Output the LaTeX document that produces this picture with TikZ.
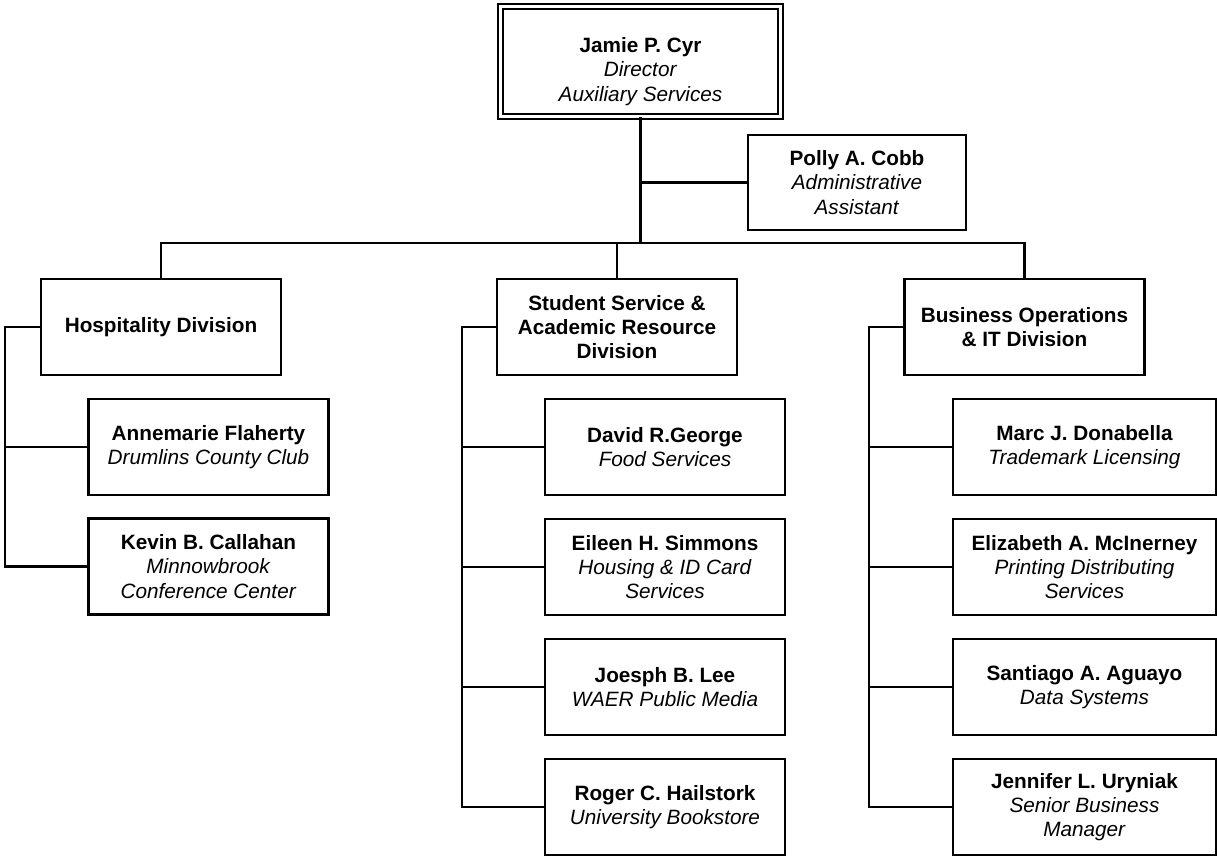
\documentclass[tikz,border=0pt]{standalone}
\usepackage{fontspec}
\setmainfont{Liberation Sans}
\tikzset{
  box/.style={draw, line width=1.2pt, align=center, inner sep=2pt,
    minimum width=4.8cm, minimum height=1.92cm,
    font=\fontsize{11.8}{13.8}\selectfont},
  widebox/.style={box, minimum width=5.26cm},
  headbox/.style={box, double, line width=0.9pt, double distance=1.8pt,
    minimum width=5.6cm, minimum height=2.2cm},
}
\newcommand{\who}[1]{\textbf{#1}}
\newcommand{\what}[1]{\textit{#1}}
\begin{document}
\begin{tikzpicture}[x=0.02cm, y=-0.02cm]
      \useasboundingbox (0,0) rectangle (1217,858);
      \draw
        (640.5,61.5) node[headbox] (cyr){\who{\rule{0pt}{20pt}Jamie P. Cyr}\\\what{Director}\\\what{Auxiliary Services}}
        (857,182.5) node[box, minimum width=4.36cm, minimum height=1.9cm] (cobb){\who{Polly A. Cobb}\\\what{Administrative}\\\what{Assistant}}
        (161,327) node[box] (hosp){\who{Hospitality Division}}
        (617,327) node[box] (stud){\who{Student Service \&}\\\who{Academic Resource}\\\who{Division}}
        (1024.5,327) node[box] (busop){\who{Business Operations}\\\who{\& IT Division}}
        (208.5,447) node[box] (flah){\who{Annemarie Flaherty}\\\what{Drumlins County Club}}
        (208.5,566.5) node[box] (call){\who{Kevin B. Callahan}\\\what{Minnowbrook}\\\what{Conference Center}}
        (665,447) node[box] (geor){\who{David R.George}\\\what{Food Services}}
        (665,567) node[box] (simm){\who{Eileen H. Simmons}\\\what{Housing \& ID Card}\\\what{Services}}
        (665,687) node[box] (lee){\who{Joesph B. Lee}\\\what{WAER Public Media}}
        (665,807) node[box] (hail){\who{Roger C. Hailstork}\\\what{University Bookstore}}
        (1084.5,447) node[widebox] (dona){\who{Marc J. Donabella}\\\what{Trademark Licensing}}
        (1084.5,567) node[widebox] (mcin){\who{Elizabeth A. McInerney}\\\what{Printing Distributing}\\\what{Services}}
        (1084.5,687) node[widebox] (agua){\who{Santiago A. Aguayo}\\\what{Data Systems}}
        (1084.5,807) node[widebox] (uryn){\who{Jennifer L. Uryniak}\\\what{Senior Business}\\\what{Manager}};
      \coordinate (bus) at (640.5,243);
      \coordinate (hospl) at (5,327);
      \coordinate (studl) at (462,327);
      \coordinate (busopl) at (869,327);
      \begin{scope}[-, line width=1.2pt]
        \draw (cyr.south) to (bus);
        \draw (cobb.west) -- (cobb.west -| bus);
        \draw (hosp.north) |- (bus) -| (busop.north);
        \draw (stud.north) -- (stud.north |- bus);
        \draw (hosp.west) -- (hospl) |- (flah.west);
        \draw (hospl) |- (call.west);
        \draw (stud.west) -- (studl) |- (geor.west);
        \draw (studl) |- (simm.west);
        \draw (studl) |- (lee.west);
        \draw (studl) |- (hail.west);
        \draw (busop.west) -- (busopl) |- (dona.west);
        \draw (busopl) |- (mcin.west);
        \draw (busopl) |- (agua.west);
        \draw (busopl) |- (uryn.west);
      \end{scope}
    \end{tikzpicture}
\end{document}
